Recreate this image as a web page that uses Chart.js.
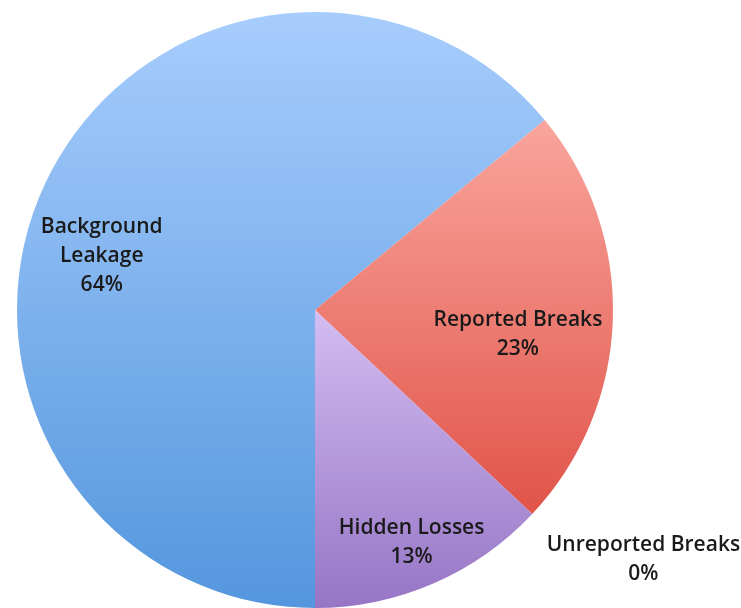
<!DOCTYPE html>
<html>
<head>
<meta charset="utf-8">
<script src="https://cdn.jsdelivr.net/npm/chart.js@4/dist/chart.umd.min.js"></script>
<style>
  html, body { margin: 0; padding: 0; background: #ffffff; }
  #wrap { width: 741px; height: 608px; }
</style>
</head>
<body>
<div id="wrap"><canvas id="lossPie" width="741" height="608"></canvas></div>
<script>
// water loss components (percent of total)
const categories = [['Background', 'Leakage'], ['Reported Breaks'], ['Hidden Losses'], ['Unreported Breaks']];
const lossShares = [64, 23, 13, 0];

// vertical gradient stops per slice: [position, colour]
const sliceShades = [
    [[0, '#a7cdfc'], [1, '#5496de']],
    [[0.19, '#f9a49c'], [0.83, '#e1554a']],
    [[0.5, '#d3bdf2'], [1, '#9675c5']],
    [[0, '#c0504d'], [1, '#c0504d']]
];

// where each label sits: fraction of radius and angle shift (deg) from slice middle
const labelSpots = [
    { r: 0.74, shift: -10.5 },
    { r: 0.685, shift: 4.4 },
    { r: 0.84, shift: 0.7 },
    { r: 1.38, shift: -53 }
];

function sliceFill(context) {
    const area = context.chart.chartArea;
    if (!area) return '#7fb0ee';
    const g = context.chart.ctx.createLinearGradient(0, area.top, 0, area.bottom);
    sliceShades[context.dataIndex].forEach(s => g.addColorStop(s[0], s[1]));
    return g;
}

const pieLabels = {
    id: 'pieLabels',
    afterDatasetsDraw(chart) {
        const ctx = chart.ctx;
        const meta = chart.getDatasetMeta(0);
        ctx.save();
        ctx.font = '600 21px "Open Sans", Lato, sans-serif';
        ctx.fillStyle = '#1a1a1a';
        ctx.textAlign = 'center';
        ctx.textBaseline = 'middle';
        meta.data.forEach((arc, i) => {
            const p = arc.getProps(['x', 'y', 'startAngle', 'endAngle', 'outerRadius'], true);
            const spot = labelSpots[i];
            const a = (p.startAngle + p.endAngle) / 2 + spot.shift * Math.PI / 180;
            const cx = p.x + Math.cos(a) * p.outerRadius * spot.r;
            const cy = p.y + Math.sin(a) * p.outerRadius * spot.r + 2;
            const lines = categories[i].concat([lossShares[i] + '%']);
            const lh = 29;
            const top = cy - (lines.length - 1) * lh / 2;
            lines.forEach((t, k) => ctx.fillText(t, cx, top + k * lh));
        });
        ctx.restore();
    }
};

const chart = new Chart(document.getElementById('lossPie'), {
    type: 'pie',
    data: {
        labels: categories,
        datasets: [{
            data: lossShares,
            backgroundColor: sliceFill,
            borderWidth: 0
        }]
    },
    options: {
        responsive: false,
        animation: false,
        rotation: 180,
        layout: { padding: { left: 17, right: 128, top: 12, bottom: 0 } },
        plugins: {
            legend: { display: false },
            tooltip: { enabled: false }
        }
    },
    plugins: [pieLabels]
});
</script>
</body>
</html>
